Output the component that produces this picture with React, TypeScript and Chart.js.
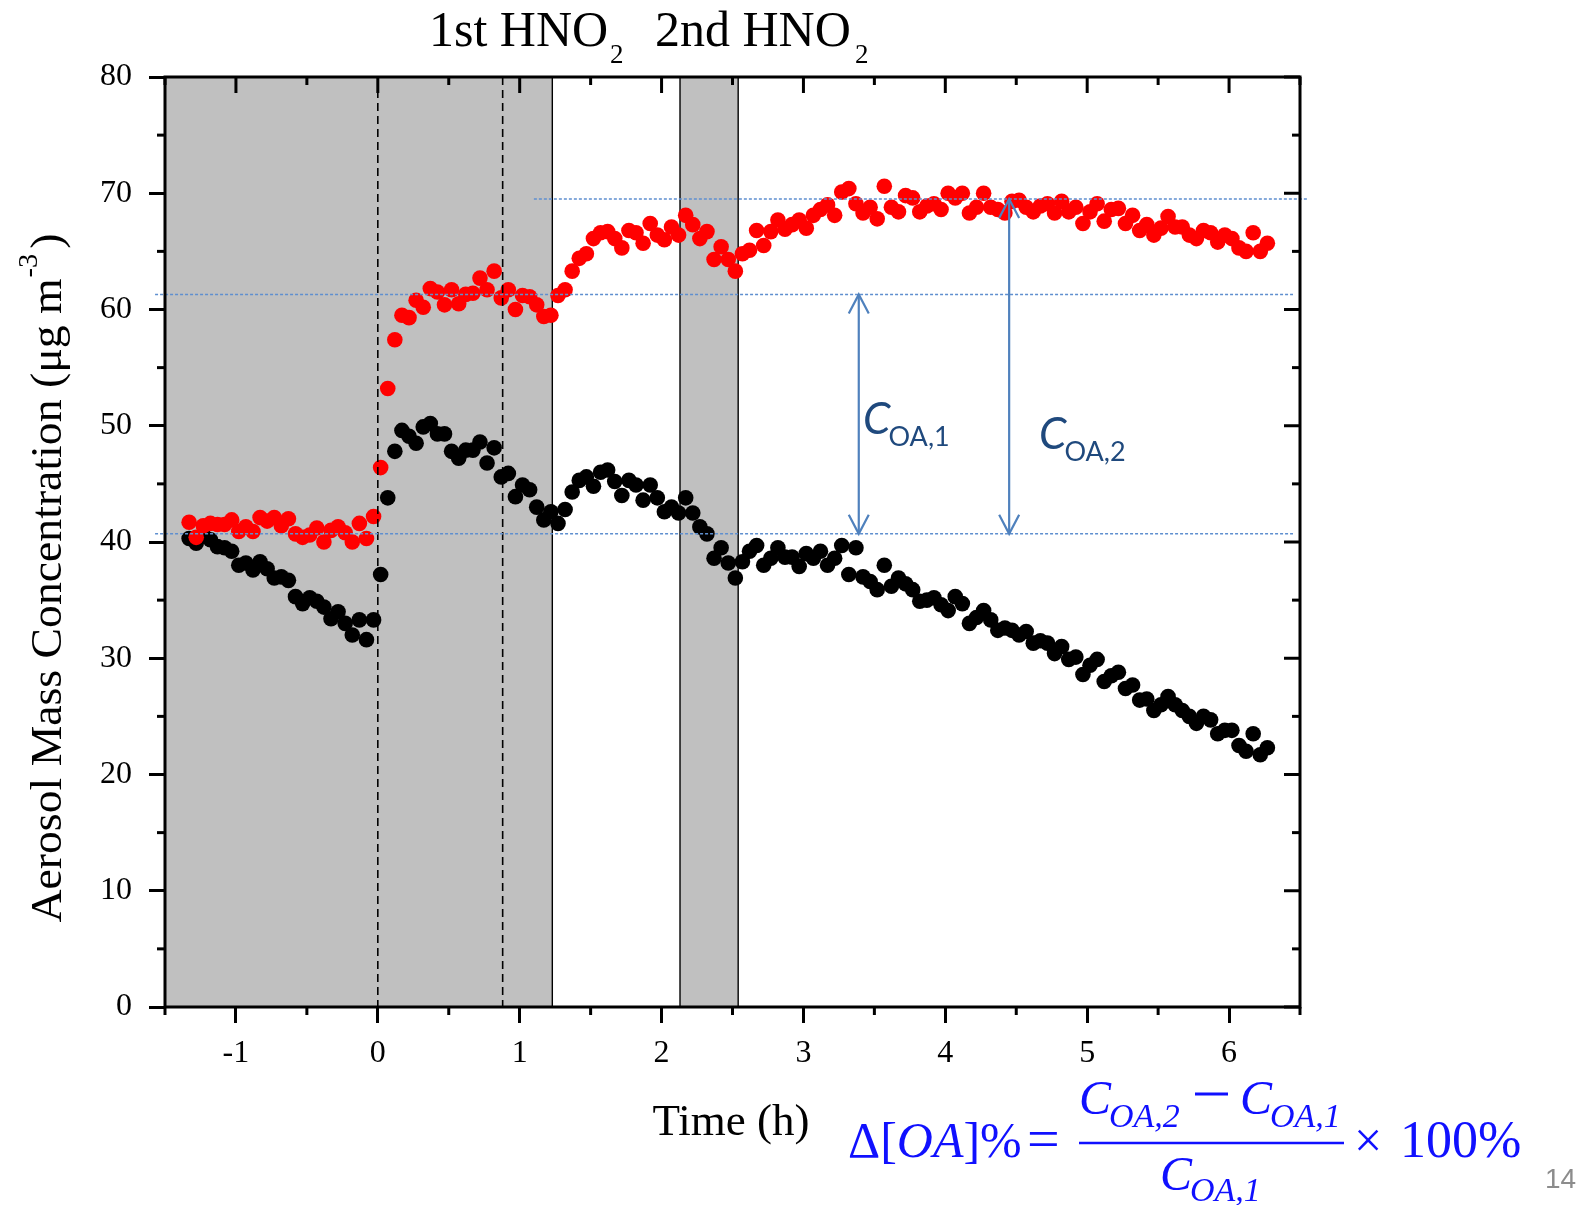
import React, { useEffect, useRef } from "react";
import { Chart, registerables } from "chart.js";

Chart.register(...registerables);

// ---------------- data ----------------
const TIME_H = [
  -1.33, -1.28, -1.23, -1.18, -1.13, -1.08, -1.03, -0.98, -0.93, -0.88,
  -0.83, -0.78, -0.73, -0.68, -0.63, -0.58, -0.53, -0.48, -0.43, -0.38,
  -0.33, -0.28, -0.23, -0.18, -0.13, -0.08, -0.03, 0.02, 0.07, 0.12,
  0.17, 0.22, 0.27, 0.32, 0.37, 0.42, 0.47, 0.52, 0.57, 0.62,
  0.67, 0.72, 0.77, 0.82, 0.87, 0.92, 0.97, 1.02, 1.07, 1.12,
  1.17, 1.22, 1.27, 1.32, 1.37, 1.42, 1.47, 1.52, 1.57, 1.62,
  1.67, 1.72, 1.77, 1.82, 1.87, 1.92, 1.97, 2.02, 2.07, 2.12,
  2.17, 2.22, 2.27, 2.32, 2.37, 2.42, 2.47, 2.52, 2.57, 2.62,
  2.67, 2.72, 2.77, 2.82, 2.87, 2.92, 2.97, 3.02, 3.07, 3.12,
  3.17, 3.22, 3.27, 3.32, 3.37, 3.42, 3.47, 3.52, 3.57, 3.62,
  3.67, 3.72, 3.77, 3.82, 3.87, 3.92, 3.97, 4.02, 4.07, 4.12,
  4.17, 4.22, 4.27, 4.32, 4.37, 4.42, 4.47, 4.52, 4.57, 4.62,
  4.67, 4.72, 4.77, 4.82, 4.87, 4.92, 4.97, 5.02, 5.07, 5.12,
  5.17, 5.22, 5.27, 5.32, 5.37, 5.42, 5.47, 5.52, 5.57, 5.62,
  5.67, 5.72, 5.77, 5.82, 5.87, 5.92, 5.97, 6.02, 6.07, 6.12,
  6.17, 6.22, 6.27,
];

// red markers
const RED_SERIES = [
  41.7, 40.4, 41.4, 41.6, 41.5, 41.5, 41.9, 40.9, 41.3, 40.9,
  42.1, 41.8, 42.1, 41.4, 42.0, 40.7, 40.4, 40.6, 41.2, 40.0,
  41.0, 41.3, 40.8, 40.0, 41.6, 40.3, 42.2, 46.4, 53.2, 57.4,
  59.5, 59.3, 60.8, 60.2, 61.8, 61.5, 60.4, 61.7, 60.5, 61.3,
  61.4, 62.7, 61.7, 63.3, 61.0, 61.7, 60.0, 61.2, 61.1, 60.4,
  59.4, 59.5, 61.2, 61.7, 63.3, 64.4, 64.8, 66.1, 66.6, 66.7,
  66.1, 65.3, 66.8, 66.6, 65.7, 67.4, 66.4, 66.0, 67.1, 66.4,
  68.1, 67.3, 66.1, 66.7, 64.3, 65.4, 64.3, 63.3, 64.8, 65.1,
  66.8, 65.5, 66.7, 67.7, 66.9, 67.3, 67.7, 67.0, 68.1, 68.6,
  69.0, 68.1, 70.1, 70.4, 69.1, 68.3, 68.8, 67.8, 70.6, 68.8,
  68.4, 69.8, 69.6, 68.4, 68.9, 69.1, 68.6, 70.0, 69.6, 70.0,
  68.3, 68.8, 70.0, 68.8, 68.6, 68.3, 69.3, 69.4, 68.8, 68.4,
  68.9, 69.1, 68.3, 69.3, 68.4, 68.8, 67.4, 68.4, 69.1, 67.6,
  68.6, 68.7, 67.4, 68.1, 66.8, 67.3, 66.4, 67.0, 68.0, 67.1,
  67.1, 66.4, 66.1, 66.8, 66.6, 65.8, 66.4, 66.1, 65.3, 65.0,
  66.6, 65.0, 65.7,
];

// black markers
const BLACK_SERIES = [
  40.3, 39.9, 40.6, 40.2, 39.6, 39.5, 39.2, 38.0, 38.2, 37.6,
  38.3, 37.7, 36.9, 37.0, 36.7, 35.3, 34.7, 35.2, 34.9, 34.4,
  33.4, 34.0, 33.0, 32.0, 33.3, 31.6, 33.3, 37.2, 43.8, 47.8,
  49.6, 49.1, 48.5, 49.9, 50.2, 49.3, 49.3, 47.8, 47.2, 47.9,
  47.9, 48.6, 46.8, 48.1, 45.6, 45.9, 43.9, 44.9, 44.5, 43.0,
  41.9, 42.6, 41.6, 42.8, 44.3, 45.3, 45.6, 44.8, 46.0, 46.2,
  45.2, 44.0, 45.3, 44.9, 43.6, 44.9, 43.8, 42.6, 43.0, 42.5,
  43.8, 42.5, 41.3, 40.7, 38.6, 39.5, 38.2, 36.9, 38.3, 39.2,
  39.7, 38.0, 38.6, 39.5, 38.7, 38.7, 37.9, 39.0, 38.6, 39.2,
  38.0, 38.6, 39.7, 37.2, 39.5, 37.0, 36.6, 35.9, 38.0, 36.2,
  36.9, 36.4, 35.9, 34.9, 35.0, 35.2, 34.6, 34.1, 35.3, 34.7,
  33.0, 33.5, 34.1, 33.3, 32.4, 32.6, 32.4, 32.0, 32.3, 31.3,
  31.5, 31.3, 30.4, 31.0, 29.9, 30.1, 28.6, 29.4, 29.9, 28.0,
  28.5, 28.8, 27.4, 27.7, 26.4, 26.5, 25.5, 26.0, 26.7, 26.0,
  25.5, 25.0, 24.4, 25.0, 24.7, 23.5, 23.8, 23.8, 22.5, 22.0,
  23.5, 21.7, 22.3,
];

const X_TICK_VALUES = [-1, 0, 1, 2, 3, 4, 5, 6];
const Y_TICK_VALUES = [0, 10, 20, 30, 40, 50, 60, 70, 80];
const X_MINOR_VALUES = [-1.5, -0.5, 0.5, 1.5, 2.5, 3.5, 4.5, 5.5, 6.5];
const Y_MINOR_VALUES = [5, 15, 25, 35, 45, 55, 65, 75];

// HNO2 injection periods (h)
const SHADED_PERIODS = [
  [-1.5, 1.23],
  [2.13, 2.54],
];
const DASHED_TIMES = [0, 0.88];
// reference levels (µg m-3) and where each dotted line starts (h)
const LEVELS = [40.7, 61.3, 69.5];
const LEVEL_STARTS = [-1.57, -1.57, 1.1];
const ARROWS = [
  { t: 3.39, from: 40.7, to: 61.3 },
  { t: 4.45, from: 40.7, to: 69.5 },
];

// ---------------- styling ----------------
const W = 1589;
const H = 1205;
const SERIF = '"Liberation Serif", "Times New Roman", serif';
const SANS = 'Lato, "Noto Sans", "Liberation Sans", sans-serif';

function drawText(ctx, text, x, y, font, color, align = "left") {
  ctx.font = font;
  ctx.fillStyle = color;
  ctx.textAlign = align;
  ctx.textBaseline = "alphabetic";
  ctx.fillText(text, x, y);
  return ctx.measureText(text).width;
}

function line(ctx, x1, y1, x2, y2) {
  ctx.beginPath();
  ctx.moveTo(x1, y1);
  ctx.lineTo(x2, y2);
  ctx.stroke();
}

const decorPlugin = {
  id: "decor",
  beforeDatasetsDraw(chart) {
    const { ctx, chartArea: a, scales } = chart;
    const x = scales.x;
    ctx.save();
    for (const [t0, t1] of SHADED_PERIODS) {
      const x0 = x.getPixelForValue(t0);
      const x1 = x.getPixelForValue(t1);
      ctx.fillStyle = "#c0c0c0";
      ctx.fillRect(x0, a.top, x1 - x0, a.bottom - a.top);
      ctx.strokeStyle = "#000";
      ctx.lineWidth = 1.4;
      for (const xx of [x0, x1]) {
        if (xx > a.left + 3) line(ctx, xx, a.top, xx, a.bottom);
      }
    }
    ctx.restore();
  },
  afterDatasetsDraw(chart) {
    const { ctx, chartArea: a, scales } = chart;
    const x = scales.x;
    const y = scales.y;
    ctx.save();

    // dashed vertical markers
    ctx.strokeStyle = "#000";
    ctx.lineWidth = 1.6;
    ctx.setLineDash([8, 5]);
    for (const t of DASHED_TIMES) {
      const px = x.getPixelForValue(t);
      line(ctx, px, a.top, px, a.bottom);
    }

    // dotted reference levels
    ctx.strokeStyle = "#5f8fcf";
    ctx.lineWidth = 1.5;
    ctx.setLineDash([3, 2]);
    LEVELS.forEach((v, i) => {
      const py = y.getPixelForValue(v);
      const right = i === LEVELS.length - 1 ? a.right + 8 : a.right - 7;
      line(ctx, x.getPixelForValue(LEVEL_STARTS[i]), py, right, py);
    });
    ctx.setLineDash([]);

    // double arrows
    ctx.strokeStyle = "#4f81bd";
    ctx.lineWidth = 2.2;
    for (const ar of ARROWS) {
      const px = x.getPixelForValue(ar.t);
      const yTop = y.getPixelForValue(ar.to);
      const yBot = y.getPixelForValue(ar.from);
      line(ctx, px, yTop, px, yBot);
      ctx.beginPath();
      ctx.moveTo(px - 10, yTop + 19);
      ctx.lineTo(px, yTop);
      ctx.lineTo(px + 10, yTop + 19);
      ctx.stroke();
      ctx.beginPath();
      ctx.moveTo(px - 10, yBot - 19);
      ctx.lineTo(px, yBot);
      ctx.lineTo(px + 10, yBot - 19);
      ctx.stroke();
    }

    // C_OA labels
    const labelColor = "#1f497d";
    const lab = [
      { x: x.getPixelForValue(3.42), y: y.getPixelForValue(49.3), sub: "OA,1" },
      { x: x.getPixelForValue(4.66), y: y.getPixelForValue(48.0), sub: "OA,2" },
    ];
    for (const l of lab) {
      const w = drawText(ctx, "C", l.x, l.y, `italic 44px ${SANS}`, labelColor);
      drawText(ctx, l.sub, l.x + w - 2, l.y + 12, `27px ${SANS}`, labelColor);
    }

    // frame
    ctx.strokeStyle = "#000";
    ctx.lineWidth = 3;
    ctx.strokeRect(a.left, a.top, a.right - a.left, a.bottom - a.top);

    // minor / inner ticks
    ctx.lineWidth = 3;
    for (const v of X_MINOR_VALUES) {
      const px = x.getPixelForValue(v);
      line(ctx, px, a.bottom, px, a.bottom + 8);
      line(ctx, px, a.top, px, a.top + 8);
    }
    for (const v of X_TICK_VALUES) {
      const px = x.getPixelForValue(v);
      line(ctx, px, a.top, px, a.top + 16);
    }
    for (const v of Y_MINOR_VALUES) {
      const py = y.getPixelForValue(v);
      line(ctx, a.left, py, a.left - 8, py);
      line(ctx, a.right, py, a.right - 8, py);
    }
    for (const v of Y_TICK_VALUES) {
      const py = y.getPixelForValue(v);
      line(ctx, a.right, py, a.right - 16, py);
    }

    // top title
    const black = "#000";
    drawText(ctx, "1st HNO", 429, 46, `50px ${SERIF}`, black);
    drawText(ctx, "2", 610, 63, `27px ${SERIF}`, black);
    drawText(ctx, "2nd HNO", 655, 46, `50px ${SERIF}`, black);
    drawText(ctx, "2", 855, 63, `27px ${SERIF}`, black);

    // x title
    drawText(ctx, "Time (h)", 731, 1135, `45px ${SERIF}`, black, "center");

    // y title (rotated)
    ctx.save();
    ctx.translate(61, 578);
    ctx.rotate(-Math.PI / 2);
    ctx.font = `45px ${SERIF}`;
    const main = "Aerosol Mass Concentration (\u03bcg m";
    const wMain = ctx.measureText(main).width;
    const wClose = ctx.measureText(")").width;
    ctx.font = `28px ${SERIF}`;
    const wSup = ctx.measureText("-3").width;
    const total = wMain + wSup + wClose + 6;
    const sc = 689 / total;
    ctx.scale(sc, 1);
    let sx = -total / 2;
    drawText(ctx, main, sx, 0, `45px ${SERIF}`, black);
    sx += wMain;
    drawText(ctx, "-3", sx + 1, -24, `28px ${SERIF}`, black);
    sx += wSup + 6;
    drawText(ctx, ")", sx, 0, `45px ${SERIF}`, black);
    ctx.restore();

    // formula
    const blue = "#1010ff";
    const up = `50px ${SERIF}`;
    const it = `italic 50px ${SERIF}`;
    const itBig = `italic 48px ${SERIF}`;
    const itSub = `italic 34px ${SERIF}`;
    let fx = 848;
    fx += drawText(ctx, "\u0394[", fx, 1157, up, blue);
    fx += drawText(ctx, "OA", fx, 1157, it, blue);
    drawText(ctx, "]%", fx, 1157, up, blue);
    drawText(ctx, "=", 1027, 1158, `58px ${SERIF}`, blue);
    let nx = 1079;
    nx += drawText(ctx, "C", nx, 1114, itBig, blue);
    drawText(ctx, "OA,2", nx - 2, 1127, itSub, blue);
    ctx.strokeStyle = blue;
    ctx.lineWidth = 3;
    line(ctx, 1195, 1094, 1228, 1094);
    let nx2 = 1240;
    nx2 += drawText(ctx, "C", nx2, 1114, itBig, blue);
    drawText(ctx, "OA,1", nx2 - 2, 1127, itSub, blue);
    ctx.lineWidth = 2.5;
    line(ctx, 1079, 1143, 1344, 1143);
    let dx = 1160;
    dx += drawText(ctx, "C", dx, 1190, itBig, blue);
    drawText(ctx, "OA,1", dx - 2, 1201, itSub, blue);
    drawText(ctx, "\u00d7", 1354, 1157, up, blue);
    drawText(ctx, "100%", 1400, 1157, `52px ${SERIF}`, blue);

    // page number
    drawText(ctx, "14", 1545, 1188, `28px "Liberation Sans", sans-serif`, "#8c8c8c");

    ctx.restore();
  },
};

export default function App() {
  const canvasRef = useRef<HTMLCanvasElement>(null);

  useEffect(() => {
    const canvas = canvasRef.current;
    if (!canvas) return;
    const redPts = TIME_H.map((t, i) => ({ x: t, y: RED_SERIES[i] }));
    const blackPts = TIME_H.map((t, i) => ({ x: t, y: BLACK_SERIES[i] }));

    const chart = new Chart(canvas, {
      type: "scatter",
      data: {
        datasets: [
          {
            label: "red",
            data: redPts,
            backgroundColor: "#ff0000",
            borderWidth: 0,
            pointRadius: 7.8,
            pointHoverRadius: 7.8,
            pointBorderWidth: 0,
          },
          {
            label: "black",
            data: blackPts,
            backgroundColor: "#000000",
            borderWidth: 0,
            pointRadius: 7.8,
            pointHoverRadius: 7.8,
            pointBorderWidth: 0,
          },
        ],
      },
      options: {
        responsive: false,
        animation: false,
        devicePixelRatio: 1,
        events: [],
        layout: { padding: { left: 0, top: 77, right: W - 1300, bottom: 0 } },
        plugins: {
          legend: { display: false },
          tooltip: { enabled: false },
          title: { display: false },
        },
        scales: {
          x: {
            type: "linear",
            position: "bottom",
            min: -1.5,
            max: 6.5,
            afterBuildTicks: (s) => {
              s.ticks = X_TICK_VALUES.map((v) => ({ value: v }));
            },
            ticks: {
              autoSkip: false,
              maxRotation: 0,
              padding: 11,
              color: "#000",
              font: { family: SERIF, size: 32 },
              callback: (v) => String(v),
            },
            grid: {
              display: true,
              drawOnChartArea: false,
              drawTicks: true,
              tickLength: 16,
              tickWidth: 3,
              tickColor: "#000",
              color: "#000",
              lineWidth: 3,
            },
            border: { display: false },
            afterFit: (s) => {
              s.height = H - 1007;
            },
          },
          y: {
            type: "linear",
            position: "left",
            min: 0,
            max: 80,
            afterBuildTicks: (s) => {
              s.ticks = Y_TICK_VALUES.map((v) => ({ value: v }));
            },
            ticks: {
              autoSkip: false,
              padding: 17,
              color: "#000",
              font: { family: SERIF, size: 32 },
              callback: (v) => String(v),
            },
            grid: {
              display: true,
              drawOnChartArea: false,
              drawTicks: true,
              tickLength: 16,
              tickWidth: 3,
              tickColor: "#000",
              color: "#000",
              lineWidth: 3,
            },
            border: { display: false },
            afterFit: (s) => {
              s.width = 165;
            },
          },
        },
      },
      plugins: [decorPlugin],
    });

    let alive = true;
    if (document.fonts && document.fonts.load) {
      Promise.all([
        document.fonts.load(`32px ${SERIF}`),
        document.fonts.load(`italic 44px ${SANS}`),
      ])
        .then(() => {
          if (alive) chart.update();
        })
        .catch(() => {});
    }
    return () => {
      alive = false;
      chart.destroy();
    };
  }, []);

  return (
    <div style={{ position: "fixed", left: 0, top: 0, width: W, height: H, background: "#fff" }}>
      <canvas ref={canvasRef} width={W} height={H} style={{ width: W, height: H, display: "block" }} />
    </div>
  );
}
